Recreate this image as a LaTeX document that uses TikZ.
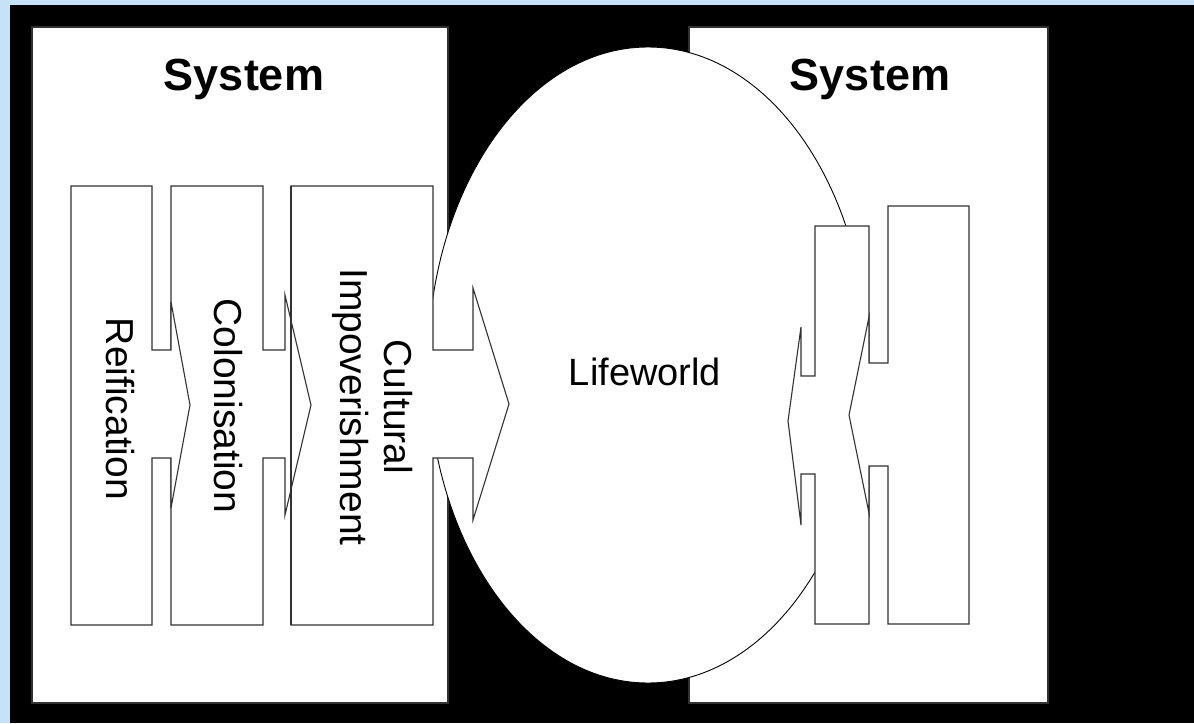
\documentclass[tikz,border=0pt]{standalone}
\usepackage{fontspec}
\setmainfont{Liberation Sans}
\definecolor{bgblue}{RGB}{198,226,246}
\definecolor{edge}{RGB}{50,50,50}
\begin{document}
\begin{tikzpicture}[x=1pt,y=-1pt,
  shapebox/.style={fill=white,draw=edge,line width=1.1pt,line join=miter},
  edgeline/.style={draw=edge,line width=1.1pt},
  lbl/.style={inner sep=0pt,anchor=base,text=black},
  vlbl/.style={inner sep=0pt,anchor=base,rotate=-90,text=black,font=\fontsize{39}{45}\selectfont}]
\useasboundingbox (0,0) rectangle (1194,723);
% background
\fill[bgblue] (0,0) rectangle (1194,723);
\fill[black] (10,5) rectangle (1194,723);
% system boxes
\draw[shapebox] (32,27) rectangle (448,703);
\draw[shapebox] (689,27) rectangle (1048,703);
% lifeworld ellipse
\draw[fill=white,draw=black,line width=0.9pt] (648,365) ellipse [x radius=220, y radius=318];
% left chain (right-pointing block arrows)
\draw[shapebox] (291,186) -- (433,186) -- (433,350) -- (473,350) -- (473,288) -- (509,404)
   -- (473,520) -- (473,458) -- (433,458) -- (433,625) -- (291,625) -- cycle;
\draw[shapebox] (171,186) -- (263,186) -- (263,350) -- (285,350) -- (285,295) -- (311,405)
   -- (285,515) -- (285,458) -- (263,458) -- (263,625) -- (171,625) -- cycle;
\draw[edgeline] (291,186) -- (291,625);
\draw[shapebox] (71,186) -- (152,186) -- (152,350) -- (171,350) -- (171,302) -- (190,405)
   -- (171,508) -- (171,458) -- (152,458) -- (152,625) -- (71,625) -- cycle;
% right chain (left-pointing block arrows)
\draw[shapebox] (815,226) -- (869,226) -- (869,624) -- (815,624) -- (815,474) -- (801,474)
   -- (801,525) -- (788,421) -- (801,327) -- (801,376) -- (815,376) -- cycle;
\draw[shapebox] (888,206) -- (969,206) -- (969,624) -- (888,624) -- (888,466) -- (869,466)
   -- (869,513) -- (849,415) -- (869,317) -- (869,363) -- (888,363) -- cycle;
% labels
\node[lbl,font=\fontsize{45}{52}\selectfont\bfseries] (sysL) at (244,90) {System};
\node[lbl,font=\fontsize{45}{52}\selectfont\bfseries] (sysR) at (870,90) {System};
\node[lbl,font=\fontsize{38}{44}\selectfont] (life) at (645,385) {Lifeworld};
\node[vlbl] (reif) at (106,409) {Reification};
\node[vlbl] (colo) at (214,406) {Colonisation};
\node[vlbl] (cult) at (384,407) {Cultural};
\node[vlbl] (impo) at (340,407) {Impoverishment};
\end{tikzpicture}
\end{document}
